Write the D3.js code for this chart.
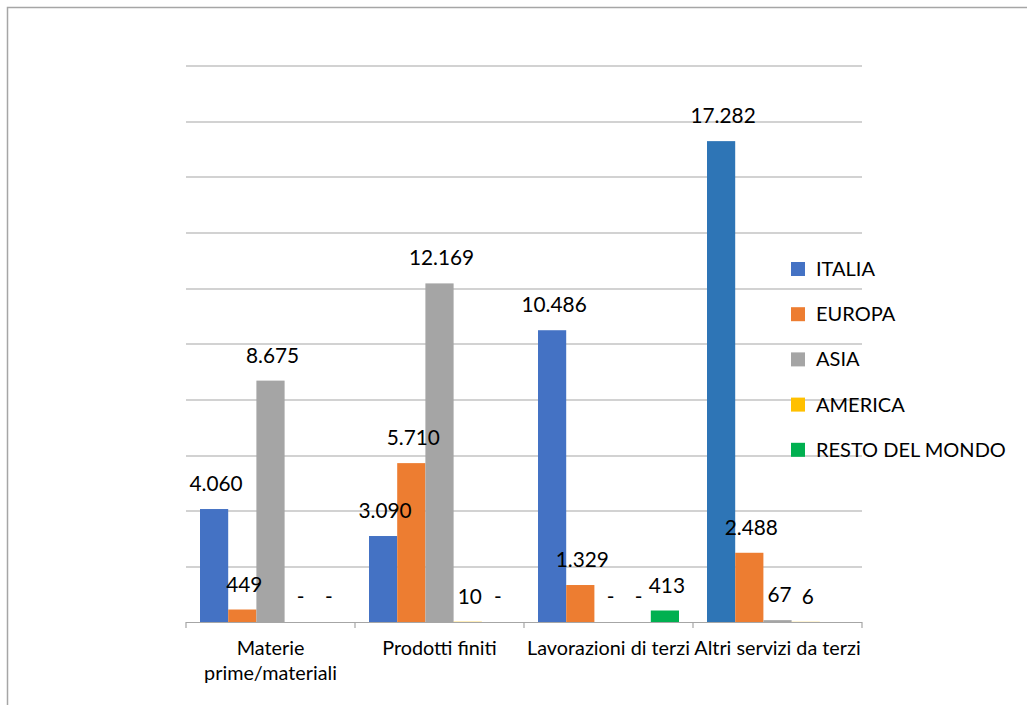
<!DOCTYPE html>
<html>
<head>
<meta charset="utf-8">
<script src="https://cdn.jsdelivr.net/npm/d3@7"></script>
<style>
  body { margin: 0; background: #fff; }
  text { font-family: Lato, "Open Sans", sans-serif; fill: #000; }
</style>
</head>
<body>
<svg id="chart" width="1027" height="705"></svg>
<script>
var categories = ["Materie\nprime/materiali", "Prodotti finiti", "Lavorazioni di terzi", "Altri servizi da terzi"];
var seriesNames = ["ITALIA", "EUROPA", "ASIA", "AMERICA", "RESTO DEL MONDO"];
var italia = [4060, 3090, 10486, 17282];
var europa = [449, 5710, 1329, 2488];
var asia = [8675, 12169, 0, 67];
var america = [0, 10, 0, 6];
var restoDelMondo = [0, 0, 413, null];
var colors = ["#4472C4", "#ED7D31", "#A5A5A5", "#FFC000", "#00B050"];
var gridTicks = [0, 2000, 4000, 6000, 8000, 10000, 12000, 14000, 16000, 18000, 20000];

var series = [italia, europa, asia, america, restoDelMondo];

var svg = d3.select("#chart");
var margin = {left: 186, right: 165, top: 65.5, bottom: 83};
var width = 1027 - margin.left - margin.right;
var height = 705 - margin.top - margin.bottom;

// chart frame (only top and left edges show)
svg.append("path")
	.attr("d", "M7.5,705 L7.5,7.5 L1027,7.5")
	.attr("fill", "none")
	.attr("stroke", "#a6a6a6")
	.attr("stroke-width", 1.5);

var g = svg.append("g").attr("transform", "translate(" + margin.left + "," + margin.top + ")");

var x0 = d3.scaleBand().domain(d3.range(categories.length)).range([0, width]).padding(0);
var x1 = d3.scaleBand().domain(d3.range(seriesNames.length)).range([14, x0.bandwidth() - 14]);
var y = d3.scaleLinear().domain([0, 20000]).range([height, 0]);

var it = d3.formatLocale({decimal: ",", thousands: ".", grouping: [3], currency: ["€", ""]});
var fmt = it.format(",d");

g.selectAll(".grid")
	.data(gridTicks.slice(1))
	.enter().append("line")
	.attr("class", "grid")
	.attr("x1", 0).attr("x2", width)
	.attr("y1", function(d) { return Math.round(y(d)) + 0.5; })
	.attr("y2", function(d) { return Math.round(y(d)) + 0.5; })
	.attr("stroke", "#a6a6a6")
	.attr("stroke-width", 1.2);

// bars
var groups = g.selectAll(".cat")
	.data(categories)
	.enter().append("g")
	.attr("class", "cat")
	.attr("transform", function(d, i) { return "translate(" + x0(i) + ",0)"; });

groups.each(function(c, ci) {
	var cell = d3.select(this);
	var pts = series.map(function(s, si) { return {si: si, v: s[ci]}; });
	cell.selectAll("rect")
		.data(pts.filter(function(p) { return p.v; }))
		.enter().append("rect")
		.attr("x", function(p) { return x1(p.si); })
		.attr("width", x1.bandwidth())
		.attr("y", function(p) { return y(p.v); })
		.attr("height", function(p) { return height - y(p.v); })
		.attr("fill", function(p) { return (ci == 3 && p.si == 0) ? "#2E75B6" : colors[p.si]; });
	cell.selectAll("text.lbl")
		.data(pts.filter(function(p) { return p.v !== null; }))
		.enter().append("text")
		.attr("class", "lbl")
		.attr("x", function(p) { return x1(p.si) + x1.bandwidth() / 2 + 2; })
		.attr("y", function(p) { return y(p.v) - 18; })
		.attr("text-anchor", "middle")
		.attr("font-size", "20.8px")
		.text(function(p) { return p.v === 0 ? "-" : fmt(p.v); });
});

// x axis
var axis = g.append("g").attr("transform", "translate(0," + height + ")");
axis.append("line")
	.attr("x1", 0).attr("x2", width)
	.attr("y1", 0.5).attr("y2", 0.5)
	.attr("stroke", "#a6a6a6").attr("stroke-width", 1.2);
axis.selectAll(".tick")
	.data(d3.range(categories.length + 1))
	.enter().append("line")
	.attr("x1", function(i) { return i * x0.bandwidth(); })
	.attr("x2", function(i) { return i * x0.bandwidth(); })
	.attr("y1", 0).attr("y2", 6)
	.attr("stroke", "#a6a6a6").attr("stroke-width", 1.2);

axis.selectAll(".clbl")
	.data(categories)
	.enter().append("text")
	.attr("class", "clbl")
	.attr("text-anchor", "middle")
	.attr("font-size", "19.8px")
	.attr("transform", function(d, i) { return "translate(" + (x0(i) + x0.bandwidth() / 2) + ",33)"; })
	.selectAll("tspan")
	.data(function(d) { return d.split("\n"); })
	.enter().append("tspan")
	.attr("x", 0)
	.attr("dy", function(d, i) { return i ? 25 : 0; })
	.text(function(d) { return d; });

// legend
var legend = svg.append("g").attr("transform", "translate(791,0)");
var leg = legend.selectAll(".leg")
	.data(seriesNames)
	.enter().append("g")
	.attr("transform", function(d, i) { return "translate(0," + (269 + i * 45.2) + ")"; });
leg.append("rect")
	.attr("x", 0).attr("y", -7).attr("width", 14).attr("height", 14)
	.attr("fill", function(d, i) { return colors[i]; });
leg.append("text")
	.attr("x", 25).attr("y", 7)
	.attr("font-size", "20px")
	.text(function(d) { return d; });
</script>
</body>
</html>
